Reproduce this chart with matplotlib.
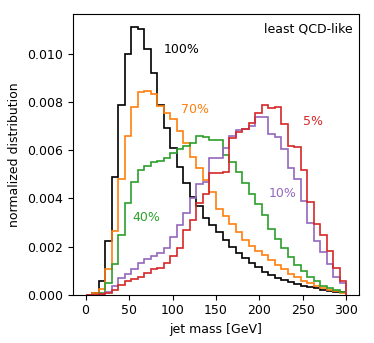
import numpy as np
import matplotlib
matplotlib.use("Agg")
import matplotlib.pyplot as plt

plt.rcParams['font.family'] = ['DejaVu Sans']
plt.rcParams['font.size'] = 9

bin_width = 7.5
x_max = 300
edges = np.arange(0, x_max + bin_width / 2, bin_width)

# values in units of 1e-3
frac_100 = [0.0, 0.05, 0.58, 2.25, 4.9, 7.9, 10.0, 11.14, 11.05, 10.2,
            9.2, 7.9, 6.95, 6.1, 5.3, 4.65, 4.06, 3.67, 3.2, 2.9,
            2.6, 2.27, 1.97, 1.72, 1.53, 1.3, 1.15, 0.95, 0.83, 0.7,
            0.62, 0.52, 0.45, 0.38, 0.31, 0.26, 0.21, 0.17, 0.13, 0.10]
frac_70 = [0.0, 0.08, 0.25, 1.07, 2.65, 4.8, 6.6, 7.8, 8.42, 8.46,
           8.36, 7.85, 7.55, 7.3, 6.8, 6.3, 5.72, 5.28, 4.75, 4.26,
           3.57, 3.29, 2.92, 2.6, 2.28, 2.04, 1.83, 1.63, 1.44, 1.25,
           1.07, 0.86, 0.72, 0.58, 0.47, 0.38, 0.28, 0.19, 0.14, 0.06]
frac_40 = [0.0, 0.0, 0.06, 0.5, 1.28, 2.5, 3.8, 4.7, 5.2, 5.35,
           5.5, 5.55, 5.7, 5.9, 6.07, 6.17, 6.3, 6.6, 6.55, 6.45,
           6.43, 5.8, 5.5, 5.1, 4.65, 4.2, 3.78, 3.3, 2.75, 2.3,
           1.95, 1.56, 1.22, 1.0, 0.75, 0.56, 0.38, 0.28, 0.19, 0.10]
frac_10 = [0.0, 0.0, 0.03, 0.12, 0.35, 0.7, 0.85, 1.05, 1.3, 1.48,
           1.6, 1.72, 1.95, 2.4, 2.9, 3.4, 4.0, 4.62, 4.7, 5.7,
           5.7, 6.1, 6.6, 6.85, 6.9, 7.0, 7.4, 7.4, 6.7, 6.56,
           6.07, 5.28, 4.8, 3.9, 3.0, 2.25, 1.76, 1.28, 0.72, 0.47]
frac_5 = [0.0, 0.0, 0.02, 0.08, 0.2, 0.4, 0.55, 0.65, 0.75, 0.88,
          1.05, 1.1, 1.3, 1.6, 1.95, 2.7, 3.1, 3.8, 4.2, 5.05,
          5.05, 5.1, 6.5, 6.75, 6.9, 7.15, 7.55, 7.9, 7.75, 7.8,
          7.1, 6.2, 6.15, 5.17, 3.85, 2.94, 2.46, 1.83, 1.11, 0.58]

labels = ["100%", "70%", "40%", "10%", "5%"]
colors = ["black", "tab:orange", "tab:green", "tab:purple", "tab:red"]
series = [frac_100, frac_70, frac_40, frac_10, frac_5]
label_x = [90, 110, 53.5, 210.5, 250]
label_y = [0.0102, 0.0077, 0.0032, 0.0042, 0.0072]

fig = plt.figure(figsize=(3.74, 3.43), dpi=100)
ax = fig.add_axes([0.194, 0.141, 0.767, 0.818])

for vals, c in zip(series, colors):
    ax.stairs(np.array(vals) * 1e-3, edges, color=c, lw=1.2)

for lab, c, lx, ly in zip(labels, colors, label_x, label_y):
    ax.text(lx, ly, lab, color=c, ha='left', va='center', fontsize=9)

ax.text(0.975, 0.97, "least QCD-like", transform=ax.transAxes,
        ha='right', va='top', fontsize=9)

ax.set_xlim(-15, 315)
ax.set_ylim(0, 0.01167)
ax.set_xticks([0, 50, 100, 150, 200, 250, 300])
ax.set_yticks([0, 0.002, 0.004, 0.006, 0.008, 0.010])
ax.yaxis.set_major_formatter(matplotlib.ticker.FormatStrFormatter('%.3f'))
ax.set_xlabel("jet mass [GeV]")
ax.set_ylabel("normalized distribution")

fig.savefig("out.png", dpi=100)
